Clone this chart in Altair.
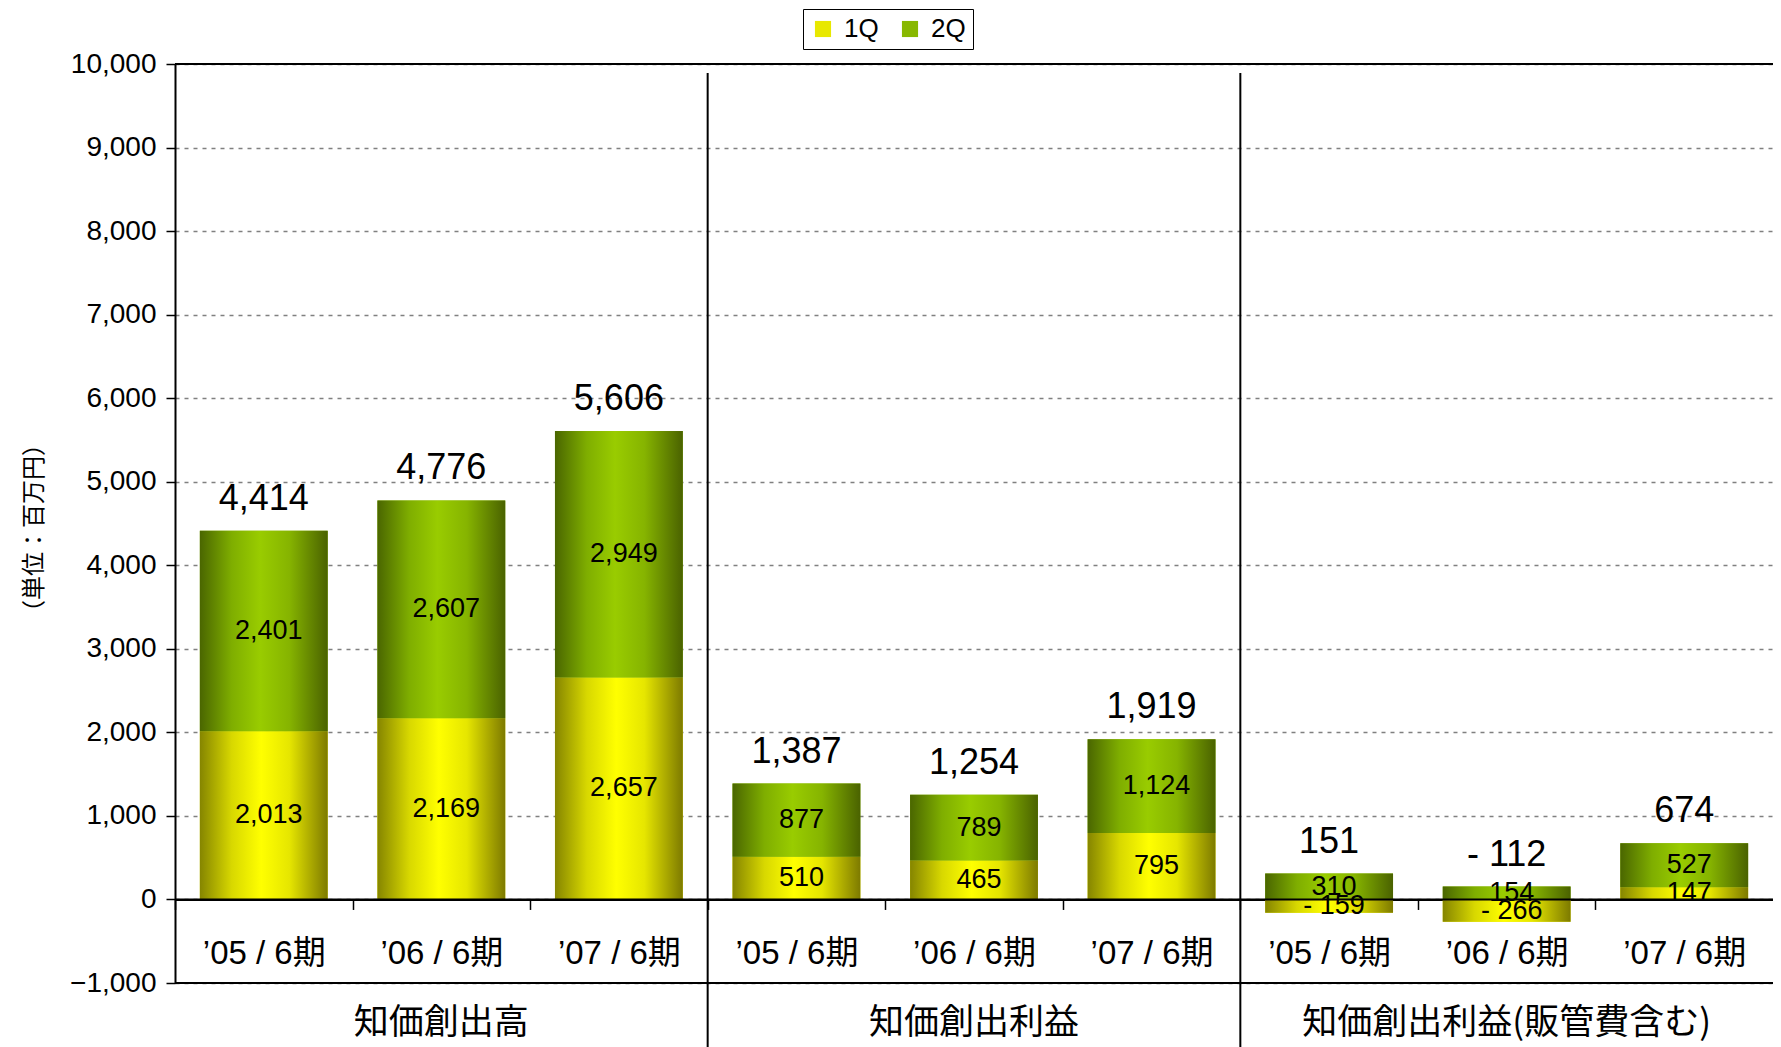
import altair as alt
import pandas as pd

# ---- data ----
groups = ["知価創出高", "知価創出利益", "知価創出利益(販管費含む)"]
periods = ["’05 / 6期", "’06 / 6期", "’07 / 6期"]
q1_values = [2013, 2169, 2657, 510, 465, 795, -159, -266, 147]
q2_values = [2401, 2607, 2949, 877, 789, 1124, 310, 154, 527]
totals = [4414, 4776, 5606, 1387, 1254, 1919, 151, -112, 674]
series = ["1Q", "2Q"]
y_ticks = list(range(-1000, 10001, 1000))
ref_lines = [-1000, 0, 10000]


def fmt(v):
    return f"{v:,}".replace("-", "- ")


keys = [f"{g}|{p}" for g in range(len(groups)) for p in periods]

rows = []
tot_rows = []
for i, k in enumerate(keys):
    a, b = q1_values[i], q2_values[i]
    rows.append({"key": k, "q": "1Q", "y0": 0, "y1": a, "mid": a / 2, "label": fmt(a)})
    base = max(a, 0)
    rows.append({"key": k, "q": "2Q", "y0": base, "y1": base + b, "mid": base + b / 2, "label": fmt(b)})
    tot_rows.append({"key": k, "top": base + b, "label": fmt(totals[i])})
df = pd.DataFrame(rows)
df_tot = pd.DataFrame(tot_rows)
df_ref = pd.DataFrame({"v": ref_lines})
df_sep = pd.DataFrame({"key": [keys[3], keys[6]]})
df_grp = pd.DataFrame({"key": [keys[1], keys[4], keys[7]], "name": groups})

W, H = 1598, 919
STEP = W / 9
FONT = "Liberation Sans, Arial, Noto Sans CJK JP, sans-serif"
CJK = "Noto Sans CJK JP, Liberation Sans, sans-serif"

x_scale = alt.Scale(domain=keys, paddingInner=0, paddingOuter=0)
y_scale = alt.Scale(domain=[-1000, 10000], nice=False, zero=False)

x_axis = alt.Axis(
    title=None,
    labelExpr="split(datum.label, '|')[1]",
    labelFont=FONT,
    labelFontSize=33,
    labelColor="black",
    labelPadding=28,
    labelAngle=0,
    labelOffset=STEP / 2,
    offset=-H * 1000 / 11000,
    domainColor="black",
    domainWidth=2,
    tickColor="black",
    tickWidth=1.5,
    tickSize=10,
    tickOffset=-STEP / 2,
    grid=False,
)
y_axis = alt.Axis(
    title="（単位：百万円）",
    titleFont=CJK,
    titleFontSize=24,
    titleFontWeight="normal",
    titleColor="black",
    titleAngle=-90,
    titleX=-141,
    titleY=H / 2 + 4,
    titleAlign="center",
    titleBaseline="middle",
    values=y_ticks,
    labelExpr="replace(format(datum.value, ','), '-', '- ')",
    labelFont=FONT,
    labelFontSize=28,
    labelColor="black",
    labelPadding=10,
    domainColor="black",
    domainWidth=2,
    tickColor="black",
    tickWidth=1.5,
    tickSize=9,
    grid=True,
    gridColor="#808080",
    gridDash=[4, 5],
    gridWidth=1.5,
)

x_enc = alt.X("key:N", scale=x_scale, axis=x_axis, sort=keys)
x_plain = alt.X("key:N", scale=x_scale, sort=keys)

yellow = alt.LinearGradient(
    gradient="linear",
    x1=0, x2=1, y1=0, y2=0,
    stops=[
        alt.GradientStop(color="#858500", offset=0),
        alt.GradientStop(color="#d8d800", offset=0.25),
        alt.GradientStop(color="#ffff00", offset=0.48),
        alt.GradientStop(color="#e6e600", offset=0.7),
        alt.GradientStop(color="#7d7a00", offset=1),
    ],
)
green = alt.LinearGradient(
    gradient="linear",
    x1=0, x2=1, y1=0, y2=0,
    stops=[
        alt.GradientStop(color="#4a6600", offset=0),
        alt.GradientStop(color="#7fae00", offset=0.25),
        alt.GradientStop(color="#99cc00", offset=0.47),
        alt.GradientStop(color="#86b400", offset=0.7),
        alt.GradientStop(color="#4a6200", offset=1),
    ],
)

bw = alt.RelativeBandSize(0.72)

base_bars = alt.Chart(df).mark_bar(width=bw, strokeWidth=0).encode(
    x=x_enc,
    y=alt.Y("y0:Q", scale=y_scale, axis=y_axis),
    y2="y1:Q",
    color=alt.Color(
        "q:N",
        scale=alt.Scale(domain=series, range=["#e8e800", "#88b800"]),
        legend=alt.Legend(
            title=None,
            orient="none",
            direction="horizontal",
            legendX=628,
            legendY=-55,
            symbolType="square",
            symbolSize=260,
            symbolStrokeWidth=0,
            labelFont=FONT,
            labelFontSize=26,
            labelColor="black",
            labelOffset=8,
            columnPadding=18,
            padding=7,
            strokeColor="black",
            fillColor="white",
        ),
    ),
)

bars_q1 = alt.Chart(df).transform_filter("datum.q === '1Q'").mark_bar(
    width=bw, color=yellow, strokeWidth=0
).encode(x=x_plain, y=alt.Y("y0:Q", scale=y_scale), y2="y1:Q")

bars_q2 = alt.Chart(df).transform_filter("datum.q === '2Q'").mark_bar(
    width=bw, color=green, strokeWidth=0
).encode(x=x_plain, y=alt.Y("y0:Q", scale=y_scale), y2="y1:Q")

seg_labels = alt.Chart(df).mark_text(
    font=FONT, fontSize=27, color="black", baseline="middle", dx=5
).encode(x=x_plain, y=alt.Y("mid:Q", scale=y_scale), text="label:N")

tot_labels = alt.Chart(df_tot).mark_text(
    font=FONT, fontSize=36, color="black", baseline="middle", dy=-32
).encode(x=x_plain, y=alt.Y("top:Q", scale=y_scale), text="label:N")

ref_rules = alt.Chart(df_ref).mark_rule(color="black", strokeWidth=2).encode(
    y=alt.Y("v:Q", scale=y_scale)
)

sep_rules = alt.Chart(df_sep).mark_rule(color="black", strokeWidth=2).encode(
    x=alt.X("key:N", scale=x_scale, sort=keys, bandPosition=0),
    y=alt.value(9),
    y2=alt.value(H + 70),
)

grp_labels = alt.Chart(df_grp).mark_text(
    font=CJK, fontSize=35, color="black", baseline="middle"
).encode(x=x_plain, y=alt.value(H + 40), text="name:N")

chart = (
    alt.layer(base_bars, bars_q1, bars_q2, ref_rules, sep_rules, seg_labels, tot_labels, grp_labels)
    .properties(
        width=W,
        height=H,
        autosize=alt.AutoSizeParams(type="none"),
        padding={"left": 167, "top": 56, "right": 0, "bottom": 64},
    )
    .configure_view(stroke="transparent")
)

chart.save("out.html", embed_options={"renderer": "svg", "actions": False})
